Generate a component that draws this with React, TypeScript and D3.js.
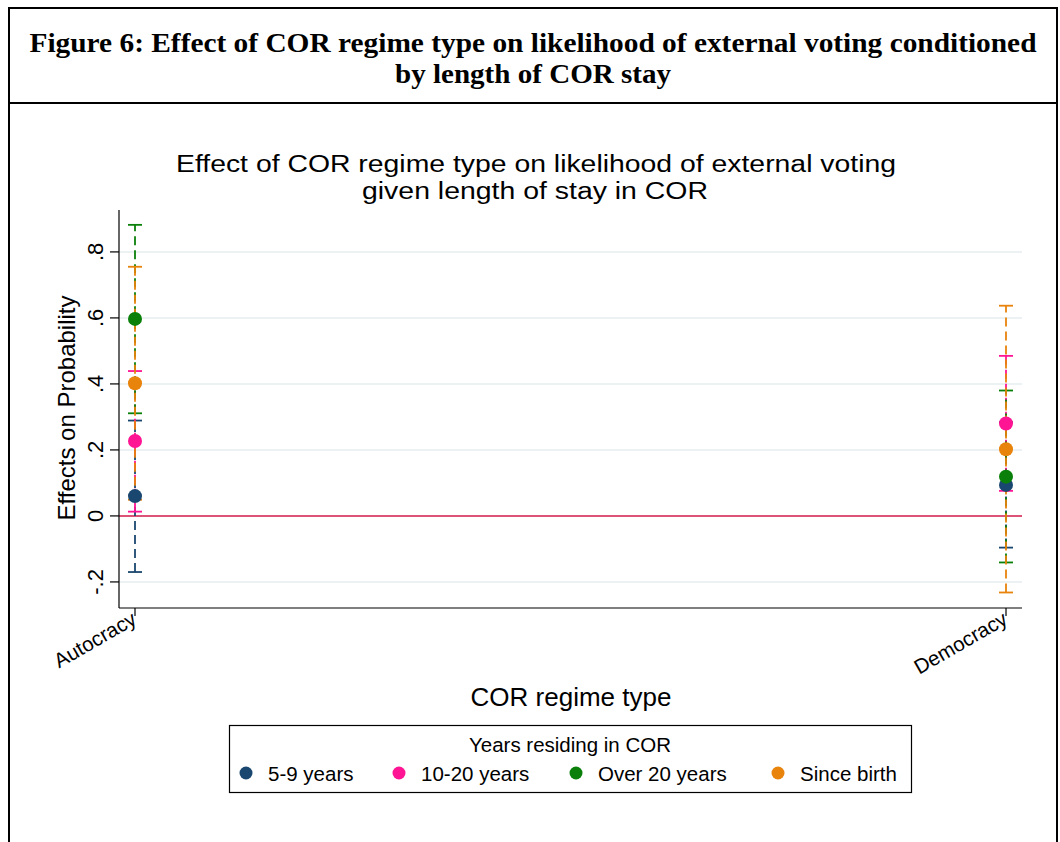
import React from "react";
import * as d3 from "d3";

const categories = ["Autocracy", "Democracy"];
const seriesNames = ["5-9 years", "10-20 years", "Over 20 years", "Since birth"];
const seriesColors = ["#1a476f", "#ff1493", "#0a800a", "#e8830c"];
// point estimates per series, [Autocracy, Democracy]
const estNavy = [0.06, 0.094];
const estPink = [0.227, 0.28];
const estGreen = [0.597, 0.119];
const estOrange = [0.402, 0.202];
// lower CI
const lowNavy = [-0.17, -0.096];
const lowPink = [0.013, 0.076];
const lowGreen = [0.311, -0.141];
const lowOrange = [0.049, -0.232];
// upper CI
const highNavy = [0.289, 0.284];
const highPink = [0.439, 0.485];
const highGreen = [0.882, 0.38];
const highOrange = [0.755, 0.637];
const yTicks = [-0.2, 0, 0.2, 0.4, 0.6, 0.8];
const yTickLabels = ["-.2", "0", ".2", ".4", ".6", ".8"];

const est = [estNavy, estPink, estGreen, estOrange];
const low = [lowNavy, lowPink, lowGreen, lowOrange];
const high = [highNavy, highPink, highGreen, highOrange];

export default function App() {
  const W = 1060, H = 842;
  const left = 119, right = 1022, top = 210, bottom = 608;
  const y = d3.scaleLinear().domain([-0.279, 0.927]).range([bottom, top]);
  const x = d3.scalePoint<string>().domain(categories).range([135, 1006]);
  const sans = "'Liberation Sans', Arial, sans-serif";
  const serif = "'Liberation Serif', 'Times New Roman', serif";
  const legendX = [246, 399, 576, 778];

  return (
    <svg width={W} height={H} style={{ position: "absolute", left: 0, top: 0, background: "#fff" }}>
      {/* outer frame */}
      <rect x={0} y={0} width={W} height={H} fill="#fff" />
      <line x1={9} y1={7} x2={9} y2={H} stroke="#000" strokeWidth={2} />
      <line x1={1057} y1={7} x2={1057} y2={H} stroke="#000" strokeWidth={2} />
      <line x1={8} y1={8} x2={1058} y2={8} stroke="#000" strokeWidth={2} />
      <line x1={8} y1={103} x2={1058} y2={103} stroke="#000" strokeWidth={2} />
      <text x={533} y={52} textAnchor="middle" fontFamily={serif} fontWeight="bold" fontSize={27}
        textLength={1007} lengthAdjust="spacingAndGlyphs">
        Figure 6: Effect of COR regime type on likelihood of external voting conditioned
      </text>
      <text x={533} y={83} textAnchor="middle" fontFamily={serif} fontWeight="bold" fontSize={27}
        textLength={276} lengthAdjust="spacingAndGlyphs">
        by length of COR stay
      </text>

      {/* chart title */}
      <text x={536} y={172} textAnchor="middle" fontFamily={sans} fontSize={23}
        textLength={720} lengthAdjust="spacingAndGlyphs">
        Effect of COR regime type on likelihood of external voting
      </text>
      <text x={535} y={199} textAnchor="middle" fontFamily={sans} fontSize={23}
        textLength={346} lengthAdjust="spacingAndGlyphs">
        given length of stay in COR
      </text>

      {/* gridlines */}
      {yTicks.filter((t) => t !== 0).map((t) => (
        <line key={t} x1={left} x2={right} y1={y(t)} y2={y(t)} stroke="#e6eef1" strokeWidth={1.5} />
      ))}
      {/* zero line */}
      <line x1={left} x2={right} y1={y(0)} y2={y(0)} stroke="#d2194a" strokeWidth={1.6} />

      {/* axes */}
      <line x1={left} x2={left} y1={top} y2={bottom} stroke="#000" strokeWidth={1.2} />
      <line x1={left} x2={right} y1={bottom} y2={bottom} stroke="#000" strokeWidth={1.2} />
      {yTicks.map((t, i) => (
        <g key={t}>
          <line x1={left - 9} x2={left} y1={y(t)} y2={y(t)} stroke="#000" strokeWidth={1.2} />
          <text transform={`translate(${103},${y(t)}) rotate(-90)`} textAnchor="middle"
            fontFamily={sans} fontSize={22}>{yTickLabels[i]}</text>
        </g>
      ))}
      {categories.map((c) => (
        <g key={c}>
          <line x1={x(c)!} x2={x(c)!} y1={bottom} y2={bottom + 8} stroke="#000" strokeWidth={1.2} />
          <text transform={`translate(${x(c)! + 3},${bottom + 15}) rotate(-30)`} textAnchor="end"
            fontFamily={sans} fontSize={20.5}>{c}</text>
        </g>
      ))}
      <text transform={`translate(75,408) rotate(-90)`} textAnchor="middle" fontFamily={sans} fontSize={24}>
        Effects on Probability
      </text>
      <text x={571} y={706} textAnchor="middle" fontFamily={sans} fontSize={26}>COR regime type</text>

      {/* confidence intervals */}
      {seriesNames.map((s, si) =>
        categories.map((c, ci) => {
          const cx = x(c)!;
          return (
            <g key={s + c} stroke={seriesColors[si]} strokeWidth={1.8} fill="none">
              <line x1={cx} x2={cx} y1={y(low[si][ci])} y2={y(high[si][ci])} strokeDasharray="9,5" />
              <line x1={cx - 7} x2={cx + 7} y1={y(low[si][ci])} y2={y(low[si][ci])} />
              <line x1={cx - 7} x2={cx + 7} y1={y(high[si][ci])} y2={y(high[si][ci])} />
            </g>
          );
        })
      )}
      {/* points */}
      {seriesNames.map((s, si) =>
        categories.map((c, ci) => (
          <circle key={s + c + "p"} cx={x(c)!} cy={y(est[si][ci])} r={7} fill={seriesColors[si]} />
        ))
      )}

      {/* legend */}
      <rect x={229.5} y={725.5} width={682} height={67} fill="#fff" stroke="#000" strokeWidth={1.2} />
      <text x={570} y={752} textAnchor="middle" fontFamily={sans} fontSize={20.5}>Years residing in COR</text>
      {seriesNames.map((s, i) => (
        <g key={s}>
          <circle cx={legendX[i]} cy={773} r={6.5} fill={seriesColors[i]} />
          <text x={legendX[i] + 22} y={781} fontFamily={sans} fontSize={20.5}>{s}</text>
        </g>
      ))}
    </svg>
  );
}
